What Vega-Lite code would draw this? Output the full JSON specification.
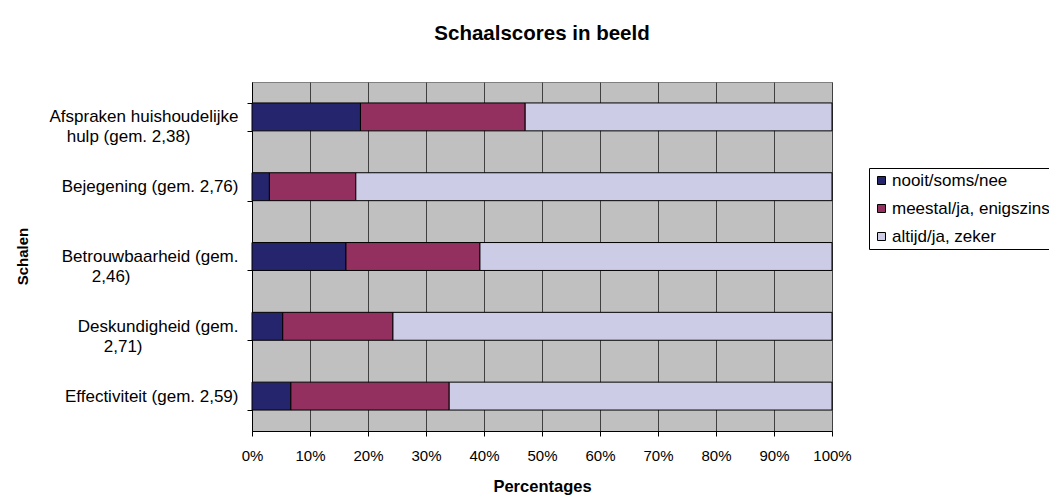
{
  "$schema": "https://vega.github.io/schema/vega-lite/v6.json",
  "autosize": {"type": "none"},
  "padding": {"left": 252, "top": 82, "right": 217, "bottom": 69},
  "width": 580,
  "height": 349,
  "background": "white",
  "title": {
    "text": "Schaalscores in beeld",
    "font": "Liberation Sans",
    "fontSize": 20.5,
    "fontWeight": "bold",
    "color": "black",
    "anchor": "middle",
    "frame": "group",
    "offset": 29
  },
  "data": {
    "values": [
      {"schaal": "Afspraken huishoudelijke|hulp (gem. 2,38)", "antwoord": "nooit/soms/nee", "rang": 1, "pct": 18.7},
      {"schaal": "Afspraken huishoudelijke|hulp (gem. 2,38)", "antwoord": "meestal/ja, enigszins", "rang": 2, "pct": 28.4},
      {"schaal": "Afspraken huishoudelijke|hulp (gem. 2,38)", "antwoord": "altijd/ja, zeker", "rang": 3, "pct": 52.9},
      {"schaal": "Bejegening (gem. 2,76)", "antwoord": "nooit/soms/nee", "rang": 1, "pct": 3.0},
      {"schaal": "Bejegening (gem. 2,76)", "antwoord": "meestal/ja, enigszins", "rang": 2, "pct": 14.9},
      {"schaal": "Bejegening (gem. 2,76)", "antwoord": "altijd/ja, zeker", "rang": 3, "pct": 82.1},
      {"schaal": "Betrouwbaarheid (gem.|2,46)", "antwoord": "nooit/soms/nee", "rang": 1, "pct": 16.2},
      {"schaal": "Betrouwbaarheid (gem.|2,46)", "antwoord": "meestal/ja, enigszins", "rang": 2, "pct": 23.1},
      {"schaal": "Betrouwbaarheid (gem.|2,46)", "antwoord": "altijd/ja, zeker", "rang": 3, "pct": 60.7},
      {"schaal": "Deskundigheid (gem.|2,71)", "antwoord": "nooit/soms/nee", "rang": 1, "pct": 5.3},
      {"schaal": "Deskundigheid (gem.|2,71)", "antwoord": "meestal/ja, enigszins", "rang": 2, "pct": 19.0},
      {"schaal": "Deskundigheid (gem.|2,71)", "antwoord": "altijd/ja, zeker", "rang": 3, "pct": 75.7},
      {"schaal": "Effectiviteit (gem. 2,59)", "antwoord": "nooit/soms/nee", "rang": 1, "pct": 6.7},
      {"schaal": "Effectiviteit (gem. 2,59)", "antwoord": "meestal/ja, enigszins", "rang": 2, "pct": 27.3},
      {"schaal": "Effectiviteit (gem. 2,59)", "antwoord": "altijd/ja, zeker", "rang": 3, "pct": 66.0}
    ]
  },
  "mark": {"type": "bar", "stroke": "black", "strokeWidth": 1},
  "encoding": {
    "y": {
      "field": "schaal",
      "type": "nominal",
      "sort": null,
      "scale": {"paddingInner": 0.6, "paddingOuter": 0.3},
      "axis": {
        "title": "Schalen",
        "titleFont": "Liberation Sans",
        "titleFontSize": 15,
        "titleFontWeight": "bold",
        "titleColor": "black",
        "titleAngle": 270,
        "titleX": -230,
        "titleY": 174,
        "titleAlign": "center",
        "titleBaseline": "middle",
        "labelExpr": "indexof(datum.label, '|') < 0 ? datum.label : [split(datum.label, '|')[0], split(datum.label, '|')[1] + (substring(datum.label, 0, 1) == 'A' ? '\u2800\u2800\u2800\u2800' : substring(datum.label, 0, 1) == 'B' ? '\u2800\u2800\u2800\u2800\u2800\u2800\u2800\u2800\u2800' : '\u2800\u2800\u2800\u2800\u2800\u2800\u2800\u2800')]",
        "labelFont": "Liberation Sans",
        "labelFontSize": 17,
        "labelColor": "black",
        "labelLineHeight": 20,
        "labelAlign": "right",
        "labelPadding": 9,
        "labelLimit": 400,
        "tickBand": "extent",
        "tickSize": 5,
        "tickColor": "black",
        "domainColor": "black",
        "grid": false
      }
    },
    "x": {
      "field": "pct",
      "type": "quantitative",
      "stack": "normalize",
      "scale": {"domain": [0, 1], "nice": false},
      "axis": {
        "title": "Percentages",
        "titleFont": "Liberation Sans",
        "titleFontSize": 16.5,
        "titleFontWeight": "bold",
        "titleColor": "black",
        "titleY": 55,
        "titleBaseline": "middle",
        "values": [0, 0.1, 0.2, 0.3, 0.4, 0.5, 0.6, 0.7, 0.8, 0.9, 1],
        "format": ".0%",
        "labelFont": "Liberation Sans",
        "labelFontSize": 15,
        "labelColor": "black",
        "labelPadding": 12,
        "labelFlush": false,
        "tickSize": 5,
        "tickColor": "black",
        "domainColor": "black",
        "grid": true,
        "gridColor": "#404040",
        "gridOpacity": 1,
        "gridWidth": 1
      }
    },
    "color": {
      "field": "antwoord",
      "type": "nominal",
      "scale": {
        "domain": ["nooit/soms/nee", "meestal/ja, enigszins", "altijd/ja, zeker"],
        "range": ["#25256E", "#93305F", "#CCCCE6"]
      },
      "legend": {
        "title": null,
        "orient": "none",
        "legendX": 617,
        "legendY": 86,
        "padding": 4,
        "strokeColor": "black",
        "fillColor": "white",
        "symbolType": "square",
        "symbolSize": 64,
        "symbolStrokeColor": "black",
        "symbolStrokeWidth": 1,
        "labelFont": "Liberation Sans",
        "labelFontSize": 17,
        "labelColor": "black",
        "labelOffset": 2,
        "labelLimit": 400,
        "rowPadding": 10
      }
    },
    "order": {"field": "rang", "type": "quantitative"}
  },
  "config": {
    "view": {"fill": "#C0C0C0", "stroke": "#808080", "strokeWidth": 1},
    "axis": {"domainWidth": 1, "tickWidth": 1}
  }
}
